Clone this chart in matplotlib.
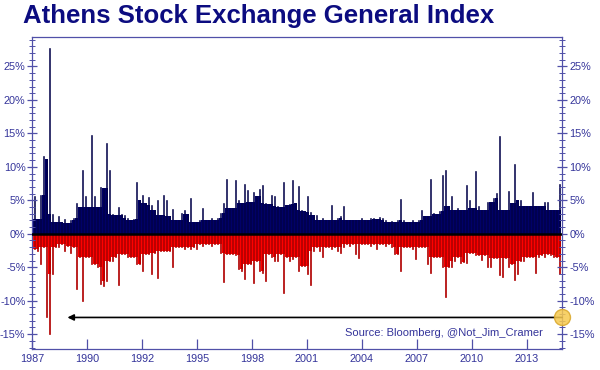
"""Athens Stock Exchange General Index: daily moves split into gains and losses."""

import matplotlib
matplotlib.use("Agg")
import matplotlib.pyplot as plt
import numpy as np

plt.rcParams["font.family"] = ["Liberation Sans", "DejaVu Sans"]

# peak daily gain / loss (%) per period, 1987 -> mid 2014
gains = [
    5.6, 2.2, 5.8, 11.6, 11.2, 27.7, 3.0, 1.8, 2.6, 1.8,
    2.2, 1.6, 2.0, 2.4, 4.6, 4.0, 9.5, 5.6, 4.0, 14.8,
    5.6, 4.0, 7.0, 6.8, 13.6, 9.5, 3.0, 2.8, 4.0, 3.0,
    2.8, 2.4, 2.0, 2.2, 7.8, 5.1, 5.8, 4.6, 5.5, 4.3,
    3.6, 5.0, 2.8, 5.8, 5.0, 2.6, 3.7, 2.1, 2.0, 3.1,
    3.6, 3.0, 5.3, 1.8, 1.8, 2.0, 3.8, 2.1, 2.0, 2.4,
    2.1, 2.3, 3.1, 4.6, 8.2, 3.8, 3.8, 8.1, 5.1, 4.6,
    7.5, 6.6, 4.8, 6.3, 5.6, 6.7, 7.3, 4.6, 4.4, 5.8,
    5.6, 4.1, 4.0, 7.8, 4.3, 4.5, 8.1, 4.6, 7.1, 3.6,
    3.4, 5.6, 3.3, 2.8, 2.8, 2.1, 2.3, 2.1, 2.0, 4.3,
    2.1, 2.3, 2.6, 4.1, 2.1, 2.0, 2.1, 2.1, 2.0, 2.3,
    2.1, 2.0, 2.3, 2.4, 2.2, 2.5, 2.3, 2.0, 1.8, 1.9,
    1.8, 2.0, 5.2, 2.0, 1.8, 1.8, 2.0, 1.8, 2.0, 3.6,
    2.6, 2.6, 8.2, 3.1, 3.0, 3.4, 8.8, 9.6, 4.1, 5.6,
    3.6, 3.8, 3.6, 3.6, 7.3, 5.1, 3.8, 9.4, 4.1, 3.6,
    3.6, 4.8, 4.8, 5.4, 6.1, 14.6, 3.6, 3.6, 6.4, 4.6,
    10.4, 5.1, 5.1, 4.1, 4.1, 4.1, 6.2, 4.1, 4.1, 4.1,
    4.8, 4.8, 3.6, 3.6, 3.6, 7.4,
]
losses = [
    -2.2, -2.5, -4.5, -2.0, -12.5, -15.0, -6.0, -2.0, -2.0, -1.5,
    -2.5, -1.8, -2.8, -2.0, -8.2, -3.5, -10.0, -3.5, -3.5, -4.5,
    -4.5, -5.0, -7.5, -7.8, -7.0, -4.0, -4.0, -3.5, -7.6, -3.0,
    -3.0, -3.5, -3.5, -3.5, -4.5, -4.5, -5.5, -3.0, -3.0, -6.0,
    -2.8, -6.6, -2.5, -2.5, -2.5, -2.5, -5.0, -2.0, -2.0, -2.0,
    -2.2, -2.0, -2.2, -2.0, -2.2, -1.5, -1.8, -1.5, -1.5, -1.8,
    -1.5, -1.6, -2.8, -7.2, -3.0, -3.0, -3.0, -3.2, -5.3, -5.5,
    -6.8, -4.5, -4.5, -7.3, -4.0, -5.5, -5.8, -7.0, -3.0, -3.5,
    -4.0, -4.0, -3.0, -8.8, -3.5, -4.0, -3.8, -3.5, -5.6, -4.8,
    -4.8, -6.0, -7.6, -2.5, -2.0, -2.5, -3.5, -2.0, -2.0, -2.2,
    -2.0, -2.5, -2.8, -2.0, -1.5, -1.8, -1.5, -3.0, -3.6, -1.5,
    -1.5, -1.5, -1.8, -1.5, -2.2, -1.5, -1.5, -1.8, -1.5, -2.0,
    -3.0, -3.0, -5.5, -2.0, -2.0, -2.0, -2.2, -3.7, -2.0, -2.0,
    -2.0, -4.5, -5.9, -3.5, -3.5, -3.5, -5.0, -9.5, -5.0, -5.0,
    -4.0, -3.5, -4.4, -4.2, -4.4, -2.8, -2.8, -3.2, -3.2, -3.9,
    -3.2, -4.9, -4.9, -3.6, -3.6, -6.2, -6.5, -3.6, -5.0, -4.5,
    -6.9, -6.0, -4.0, -4.0, -3.5, -3.5, -3.5, -5.8, -3.5, -3.2,
    -3.5, -3.0, -3.2, -3.5, -3.5, -6.0,
]
year_labels = ["1987", "1990", "1992", "1995", "1998",
               "2001", "2004", "2007", "2010", "2013"]
y_ticks = [-15, -10, -5, 0, 5, 10, 15, 20, 25]

AXIS_BLUE = "#5050a8"
LABEL_BLUE = "#34349a"
NAVY = "#000068"
RED = "#ff0000"


def core(values):
    """Level shared with both neighbours: the dense body under the spikes."""
    arr = np.abs(np.asarray(values, dtype=float))
    padded = np.pad(arr, 1, mode="edge")
    body = np.minimum(np.minimum(padded[:-2], padded[1:-1]), padded[2:])
    return np.sign(values) * body


periods = np.arange(len(gains))
x_left, x_right = -0.67, len(gains) - 0.17

fig = plt.figure(figsize=(6.0, 3.7), dpi=100)
ax = fig.add_axes([0.054, 0.057, 0.883, 0.843])

# solid body, then the individual spikes drawn as thin bars
ax.bar(periods, core(gains), width=1.0, color=NAVY, linewidth=0)
ax.bar(periods, gains, width=0.45, color=NAVY,
       edgecolor="#00003c", linewidth=0.4)
ax.bar(periods, core(losses), width=1.0, color=RED, linewidth=0)
ax.bar(periods, losses, width=0.5, color=RED,
       edgecolor="#a00000", linewidth=0.5)
ax.axhline(0, color="black", linewidth=1.8, zorder=3)

ax.set_xlim(x_left, x_right)
ax.set_ylim(-17.2, 29.4)

ax.set_xticks(x_left + np.arange(len(year_labels)) * 18.3)
ax.set_xticklabels(year_labels)
ax.set_yticks(y_ticks)
ax.set_yticks(np.arange(-17, 30), minor=True)
ax.yaxis.set_major_formatter(matplotlib.ticker.FuncFormatter(
    lambda v, _: f"{v:.0f}%"))

ax.tick_params(axis="y", which="major", direction="inout", length=7,
               width=0.9, color=AXIS_BLUE, labelcolor=LABEL_BLUE,
               labelsize=7.8, left=True, right=True,
               labelleft=True, labelright=True, pad=1.5)
ax.tick_params(axis="y", which="minor", direction="inout", length=4,
               width=0.7, color=AXIS_BLUE, left=True, right=True)
ax.tick_params(axis="x", which="major", direction="in", length=7,
               width=0.9, color=AXIS_BLUE, labelcolor=LABEL_BLUE,
               labelsize=7.8, pad=4)
for spine in ax.spines.values():
    spine.set_color(AXIS_BLUE)
    spine.set_linewidth(0.9)

# arrow back to the 1987 crash low, with marker on the right axis
ax.annotate("", xy=(11.0, -12.5), xytext=(x_right, -12.5),
            arrowprops=dict(arrowstyle="-|>", color="black", lw=1.2,
                            mutation_scale=9, shrinkA=0, shrinkB=0),
            annotation_clip=False)
ax.plot([x_right], [-12.5], "o", ms=11.5, mfc="#f6c94f", mec="#d9a72a",
        alpha=0.85, clip_on=False, zorder=5)

ax.text(0.964, 0.051, "Source: Bloomberg, @Not_Jim_Cramer",
        transform=ax.transAxes, ha="right", va="center",
        fontsize=8, color=LABEL_BLUE)

fig.text(23 / 600, 1 - 23 / 370, "Athens Stock Exchange General Index",
         ha="left", va="baseline", fontsize=18.5, fontweight="bold",
         color="#0c0c80")

fig.savefig("out.png", dpi=100)
